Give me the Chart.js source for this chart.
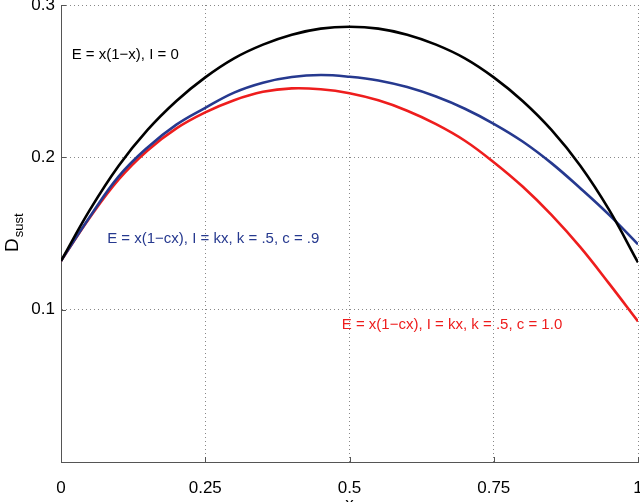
<!DOCTYPE html>
<html>
<head>
<meta charset="utf-8">
<script src="https://cdn.jsdelivr.net/npm/chart.js@4/dist/chart.umd.min.js"></script>
<style>
  html, body { margin: 0; padding: 0; background: #fff; }
  #c { display: block; }
</style>
</head>
<body>
<canvas id="c" width="640" height="502"></canvas>
<script>
// x positions and curve values
const xs    = [0, 0.05, 0.1, 0.15, 0.2, 0.25, 0.3, 0.35, 0.4, 0.45, 0.5, 0.55, 0.6, 0.65, 0.7, 0.75, 0.8, 0.85, 0.9, 0.95, 1];
const black = [0.132, 0.1655, 0.1945, 0.218, 0.237, 0.2525, 0.265, 0.274, 0.2805, 0.2845, 0.2857, 0.2845, 0.2805, 0.274, 0.265, 0.2525, 0.237, 0.218, 0.1945, 0.1655, 0.131];
const blue  = [0.132, 0.161, 0.1875, 0.2065, 0.2215, 0.2325, 0.2425, 0.249, 0.2527, 0.254, 0.2529, 0.2505, 0.2461, 0.2399, 0.2319, 0.222, 0.2104, 0.1962, 0.1797, 0.1622, 0.1429];
const red   = [0.132, 0.1605, 0.1855, 0.2045, 0.219, 0.2295, 0.2375, 0.243, 0.2453, 0.2447, 0.2421, 0.2374, 0.2306, 0.2218, 0.2109, 0.1968, 0.1808, 0.1622, 0.141, 0.1171, 0.0923];

const seriesNames = ['E = x(1\u2212x), I = 0', 'E = x(1\u2212cx), I = kx, k = .5, c = .9', 'E = x(1\u2212cx), I = kx, k = .5, c = 1.0'];
const seriesColors = ['#000000', '#26398f', '#ee1d1d'];
// where each curve's label sits, in data units
const labelX = [0.0185, 0.08, 0.4865];
const labelY = [0.267, 0.1466, 0.090];

const FONT = '"Liberation Sans", Arial, Helvetica, sans-serif';

const toPts = arr => arr.map((v, i) => ({ x: xs[i], y: v }));

// inward tick marks, curve labels and axis titles
const extras = {
  id: 'extras',
  afterDraw(chart) {
    const { ctx, chartArea: a, scales: { x, y } } = chart;
    ctx.save();
    ctx.strokeStyle = '#555';
    ctx.lineWidth = 1;
    ctx.beginPath();
    x.ticks.forEach(t => {
      const px = Math.round(x.getPixelForValue(t.value)) + 0.5;
      ctx.moveTo(px, a.bottom); ctx.lineTo(px, a.bottom - 5);
    });
    y.ticks.forEach(t => {
      const py = Math.round(y.getPixelForValue(t.value)) + 0.5;
      ctx.moveTo(a.left, py); ctx.lineTo(a.left + 5, py);
    });
    ctx.stroke();

    ctx.font = '15px ' + FONT;
    ctx.textAlign = 'left';
    ctx.textBaseline = 'middle';
    seriesNames.forEach((s, i) => {
      ctx.fillStyle = seriesColors[i];
      ctx.fillText(s, x.getPixelForValue(labelX[i]), y.getPixelForValue(labelY[i]));
    });

    // x title
    ctx.fillStyle = '#000';
    ctx.font = '17px ' + FONT;
    ctx.textAlign = 'center';
    ctx.textBaseline = 'top';
    ctx.fillText('x', (a.left + a.right) / 2, 496);

    // y title with subscript
    ctx.translate(18, 252);
    ctx.rotate(-Math.PI / 2);
    ctx.textAlign = 'left';
    ctx.textBaseline = 'alphabetic';
    ctx.font = '19px ' + FONT;
    ctx.fillText('D', 0, 0);
    const w = ctx.measureText('D').width;
    ctx.font = '13px ' + FONT;
    ctx.fillText('sust', w + 1, 5);
    ctx.restore();
  }
};

const gridStyle = { color: '#888', lineWidth: 1, drawTicks: false };
const borderStyle = { display: true, color: '#555', width: 1, dash: [1, 3] };

new Chart(document.getElementById('c'), {
  type: 'line',
  data: {
    datasets: [
      { data: toPts(black), borderColor: seriesColors[0] },
      { data: toPts(blue), borderColor: seriesColors[1] },
      { data: toPts(red), borderColor: seriesColors[2] }
    ].map(d => Object.assign(d, { borderWidth: 2.6, pointRadius: 0, tension: 0.4, fill: false }))
  },
  options: {
    responsive: false,
    animation: false,
    layout: { padding: { top: 5, right: 2, left: 0, bottom: 0 } },
    plugins: { legend: { display: false }, tooltip: { enabled: false } },
    scales: {
      x: {
        type: 'linear', min: 0, max: 1,
        grid: gridStyle,
        border: borderStyle,
        ticks: { stepSize: 0.25, padding: 16, color: '#000', font: { family: FONT, size: 17 }, maxRotation: 0,
                 callback: v => String(v) },
        afterFit: s => { s.height = 40; s.paddingLeft = 0; s.paddingRight = 0; }
      },
      y: {
        min: 0, max: 0.3,
        grid: gridStyle,
        border: borderStyle,
        ticks: { stepSize: 0.1, padding: 6, color: '#000', font: { family: FONT, size: 17 },
                 callback: v => (Math.abs(v) < 1e-9 ? '' : v.toFixed(1)) },
        afterFit: s => { s.width = 61; s.paddingTop = 0; s.paddingBottom = 0; }
      }
    }
  },
  plugins: [extras]
});
</script>
</body>
</html>
